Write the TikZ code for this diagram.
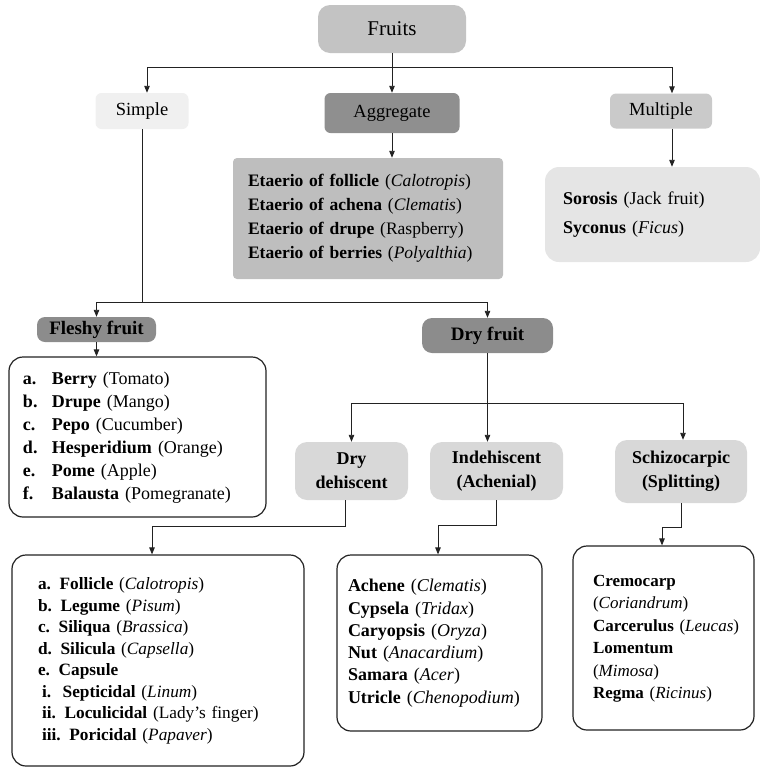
\documentclass[tikz,border=0pt]{standalone}
\usepackage{fontspec}
\setmainfont{Liberation Serif}
\usetikzlibrary{arrows.meta}
\definecolor{cFruit}{HTML}{C3C3C3}
\definecolor{cSimple}{HTML}{F0F0F0}
\definecolor{cAgg}{HTML}{8F8F8F}
\definecolor{cMult}{HTML}{CACACA}
\definecolor{cAggC}{HTML}{BEBEBE}
\definecolor{cSoro}{HTML}{E5E5E5}
\definecolor{cDark}{HTML}{8C8C8C}
\definecolor{cLight}{HTML}{D8D8D8}
\definecolor{cLine}{HTML}{222222}
\begin{document}
\begin{tikzpicture}[x=1pt,y=-1pt,
  box/.style={rounded corners=#1, inner sep=0pt, align=center, draw=none},
  listbox/.style={draw=cLine, line width=1.2pt, rounded corners=14pt, inner ysep=0pt, align=left, fill=white},
  arr/.style={draw=cLine, line width=0.9pt, -{Triangle[length=7pt,width=5.5pt]}},
  ln/.style={draw=cLine, line width=0.9pt},
  head/.style={font=\fontsize{18.5}{20}\selectfont},
  bhead/.style={font=\fontsize{18}{24}\selectfont\bfseries}
]
\useasboundingbox (0,0) rectangle (760,769);

% top level
\node[box=12pt, fill=cFruit, minimum width=148pt, minimum height=48pt, font=\fontsize{21}{24}\selectfont] (fruits) at (392,29) {Fruits};
\node[box=6pt, fill=cSimple, minimum width=93pt, minimum height=36pt, head] (simple) at (142,111) {Simple};
\node[box=6pt, fill=cAgg, minimum width=135pt, minimum height=40pt, head] (aggregate) at (392,113) {Aggregate};
\node[box=6pt, fill=cMult, minimum width=102pt, minimum height=35pt, head] (multiple) at (661,111) {Multiple};

\node[box=4pt, fill=cAggC, minimum width=270pt, minimum height=121pt, inner xsep=15pt, text width=240pt, align=left, font=\fontsize{17.5}{24}\selectfont] (aggcont) at (368,218.5)
{\textbf{Etaerio of follicle} (\textit{Calotropis})\\
\textbf{Etaerio of achena} (\textit{Clematis})\\
\textbf{Etaerio of drupe} (Raspberry)\\
\textbf{Etaerio of berries} (\textit{Polyalthia})};

\node[box=14pt, fill=cSoro, minimum width=215pt, minimum height=95pt, inner xsep=18pt, text width=179pt, align=left, font=\fontsize{18}{29}\selectfont] (soro) at (652.5,214.5)
{\textbf{Sorosis} (Jack fruit)\\
\textbf{Syconus} (\textit{Ficus})};

% second level
\node[box=8pt, fill=cDark, minimum width=119pt, minimum height=25pt, font=\fontsize{19}{24}\selectfont\bfseries] (fleshy) at (96.5,329.5) {Fleshy fruit};
\node[box=10pt, fill=cDark, minimum width=131pt, minimum height=35pt, font=\fontsize{19}{24}\selectfont\bfseries] (dry) at (487.5,335.5) {Dry fruit};

\node[listbox, minimum height=160pt, inner xsep=14pt, text width=229pt, font=\fontsize{18}{23}\selectfont] (fleshylist) at (137.5,437)
{\begin{tabular}{@{}p{29pt}@{}l@{}}
\textbf{a.} & \textbf{Berry} (Tomato)\\
\textbf{b.} & \textbf{Drupe} (Mango)\\
\textbf{c.} & \textbf{Pepo} (Cucumber)\\
\textbf{d.} & \textbf{Hesperidium} (Orange)\\
\textbf{e.} & \textbf{Pome} (Apple)\\
\textbf{f.} & \textbf{Balausta} (Pomegranate)
\end{tabular}};

\node[box=12pt, fill=cLight, minimum width=113pt, minimum height=58pt, bhead] (drydeh) at (351.5,471) {Dry\\dehiscent};
\node[box=12pt, fill=cLight, minimum width=133pt, minimum height=58pt, bhead] (indeh) at (496.5,471) {Indehiscent\\(Achenial)};
\node[box=12pt, fill=cLight, minimum width=132pt, minimum height=63pt, bhead] (schizo) at (681,471.5) {Schizocarpic\\(Splitting)};

\node[listbox, minimum height=211pt, inner xsep=26pt, text width=240pt, font=\fontsize{17.3}{21.5}\selectfont] (dehlist) at (158,660.5)
{\begin{tabular}{@{}l@{}}
\textbf{a. Follicle} (\textit{Calotropis})\\
\textbf{b. Legume} (\textit{Pisum})\\
\textbf{c. Siliqua} (\textit{Brassica})\\
\textbf{d. Silicula} (\textit{Capsella})\\
\textbf{e. Capsule}\\
\hspace*{4pt}\textbf{i.\ \ Septicidal} (\textit{Linum})\\
\hspace*{4pt}\textbf{ii. Loculicidal} (Lady's finger)\\
\hspace*{4pt}\textbf{iii. Poricidal} (\textit{Papaver})
\end{tabular}};

\node[listbox, minimum height=176pt, inner xsep=11pt, text width=183pt, font=\fontsize{18}{22.3}\selectfont] (indlist) at (439.5,643)
{\begin{tabular}{@{}l@{}}
\textbf{Achene} (\textit{Clematis})\\
\textbf{Cypsela} (\textit{Tridax})\\
\textbf{Caryopsis} (\textit{Oryza})\\
\textbf{Nut} (\textit{Anacardium})\\
\textbf{Samara} (\textit{Acer})\\
\textbf{Utricle} (\textit{Chenopodium})
\end{tabular}};

\node[listbox, minimum height=184pt, inner xsep=20pt, text width=141pt, font=\fontsize{17}{22.5}\selectfont] (schlist) at (663.5,638)
{\begin{tabular}{@{}l@{}}
\textbf{Cremocarp}\\
(\textit{Coriandrum})\\
\textbf{Carcerulus} (\textit{Leucas})\\
\textbf{Lomentum}\\
(\textit{Mimosa})\\
\textbf{Regma} (\textit{Ricinus})
\end{tabular}};

% connectors
\coordinate (jtop) at (392,67);
\draw[ln] (fruits.south) -- (jtop);
\draw[arr] (jtop) -| ([xshift=5pt]simple.north);
\draw[arr] (jtop) -- (aggregate.north);
\draw[arr] (jtop) -| ([xshift=11pt]multiple.north);
\draw[arr] (aggregate.south) -- (aggregate.south |- aggcont.north);
\draw[arr] ([xshift=11pt]multiple.south) -- ([xshift=11pt]multiple.south |- soro.north);

\coordinate (jmid) at (143,302);
\draw[ln] (simple.south) -- (simple.south |- jmid);
\draw[arr] (simple.south |- jmid) -| (fleshy.north);
\draw[arr] (simple.south |- jmid) -| (dry.north);
\draw[arr] (fleshy.south) -- (fleshy.south |- fleshylist.north);

\coordinate (jdry) at (487.5,403);
\draw[ln] (dry.south) -- (jdry);
\draw[arr] (jdry) -| (drydeh.north);
\draw[arr] (jdry) -- (jdry |- indeh.north);
\draw[arr] (jdry) -| ([xshift=2pt]schizo.north);

\draw[arr] ([xshift=-6pt]drydeh.south) -- ++(0,26) -| ([xshift=-6pt]dehlist.north);
\draw[arr] (indeh.south) -- ++(0,25) -| ([xshift=-1.5pt]indlist.north);
\draw[arr] (schizo.south) -- ++(0,24) -| ([xshift=-1.5pt]schlist.north);
\end{tikzpicture}
\end{document}
